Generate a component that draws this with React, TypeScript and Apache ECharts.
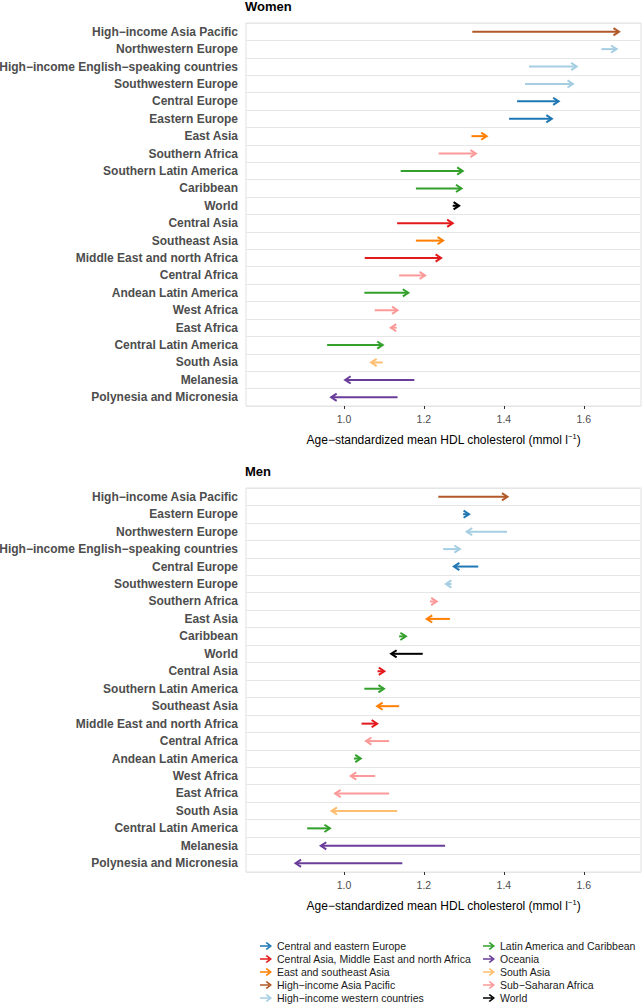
import React, { useEffect, useRef } from "react";
import * as echarts from "echarts";

const groups = [
  "Central and eastern Europe",
  "Central Asia, Middle East and north Africa",
  "East and southeast Asia",
  "High\u2212income Asia Pacific",
  "High\u2212income western countries",
  "Latin America and Caribbean",
  "Oceania",
  "South Asia",
  "Sub\u2212Saharan Africa",
  "World",
];
const groupColors = [
  "#1F78B4",
  "#E31A1C",
  "#FF7F00",
  "#B15928",
  "#A6CEE3",
  "#33A02C",
  "#6A3D9A",
  "#FDBF6F",
  "#FB9A99",
  "#000000",
];

const womenRegions = [
  "High\u2212income Asia Pacific",
  "Northwestern Europe",
  "High\u2212income English\u2212speaking countries",
  "Southwestern Europe",
  "Central Europe",
  "Eastern Europe",
  "East Asia",
  "Southern Africa",
  "Southern Latin America",
  "Caribbean",
  "World",
  "Central Asia",
  "Southeast Asia",
  "Middle East and north Africa",
  "Central Africa",
  "Andean Latin America",
  "West Africa",
  "East Africa",
  "Central Latin America",
  "South Asia",
  "Melanesia",
  "Polynesia and Micronesia",
];
const womenGroup = [3, 4, 4, 4, 0, 0, 2, 8, 5, 5, 9, 1, 2, 1, 8, 5, 8, 8, 5, 7, 6, 6];
const womenStart = [1.321, 1.644, 1.463, 1.453, 1.433, 1.413, 1.319, 1.237, 1.142, 1.18, 1.272, 1.133, 1.18, 1.052, 1.138, 1.051, 1.077, 1.132, 0.958, 1.097, 1.176, 1.134];
const womenEnd = [1.688, 1.682, 1.582, 1.573, 1.537, 1.52, 1.357, 1.33, 1.297, 1.294, 1.288, 1.272, 1.248, 1.243, 1.203, 1.161, 1.134, 1.117, 1.097, 1.068, 1.003, 0.968];

const menRegions = [
  "High\u2212income Asia Pacific",
  "Eastern Europe",
  "Northwestern Europe",
  "High\u2212income English\u2212speaking countries",
  "Central Europe",
  "Southwestern Europe",
  "Southern Africa",
  "East Asia",
  "Caribbean",
  "World",
  "Central Asia",
  "Southern Latin America",
  "Southeast Asia",
  "Middle East and north Africa",
  "Central Africa",
  "Andean Latin America",
  "West Africa",
  "East Africa",
  "South Asia",
  "Central Latin America",
  "Melanesia",
  "Polynesia and Micronesia",
];
const menGroup = [3, 0, 4, 4, 0, 4, 8, 2, 5, 9, 1, 5, 2, 1, 8, 5, 8, 8, 7, 5, 6, 6];
const menStart = [1.236, 1.298, 1.408, 1.248, 1.336, 1.269, 1.215, 1.265, 1.138, 1.197, 1.084, 1.051, 1.138, 1.044, 1.113, 1.025, 1.078, 1.113, 1.133, 0.908, 1.253, 1.146];
const menEnd = [1.409, 1.313, 1.307, 1.29, 1.275, 1.255, 1.232, 1.207, 1.155, 1.118, 1.101, 1.1, 1.083, 1.083, 1.055, 1.042, 1.017, 0.978, 0.969, 0.965, 0.942, 0.879];

const xTicks = [1.0, 1.2, 1.4, 1.6];
const xMin = 0.755;
const xMax = 1.743;

const FONT = "'Liberation Sans', Arial, Helvetica, sans-serif";

const renderArrow = (params: any, api: any) => {
  const s = api.coord([api.value(0), api.value(2)]);
  const e = api.coord([api.value(1), api.value(2)]);
  const color = api.visual("color");
  const dir = e[0] - s[0] >= 0 ? 1 : -1;
  const hl = 5.5;
  const hw = 3.6;
  return {
    type: "group",
    children: [
      {
        type: "line",
        shape: { x1: s[0], y1: s[1], x2: e[0] - dir * 0.8, y2: e[1] },
        style: { stroke: color, lineWidth: 2 },
      },
      {
        type: "polyline",
        shape: {
          points: [
            [e[0] - dir * hl, e[1] - hw],
            [e[0], e[1]],
            [e[0] - dir * hl, e[1] + hw],
          ],
        },
        style: { stroke: color, lineWidth: 2, fill: null, lineJoin: "miter" },
      },
    ],
  };
};

const arrowIcon =
  "path://M0,3.2L9,3.2L9,4.8L0,4.8Z M5.6,0.9L6.9,0L12,4L6.9,8L5.6,7.1L9.5,4Z";

function buildSeries(groupArr: number[], starts: number[], ends: number[], axisIndex: number) {
  return groups.map((g, gi) => ({
    type: "custom",
    name: g,
    xAxisIndex: axisIndex,
    yAxisIndex: axisIndex,
    renderItem: renderArrow,
    itemStyle: { color: groupColors[gi] },
    encode: { x: [0, 1], y: 2 },
    data: groupArr
      .map((gg, i) => (gg === gi ? [starts[i], ends[i], i] : null))
      .filter((d) => d !== null),
  }));
}

function xAxisCfg(gridIndex: number) {
  return {
    type: "value",
    gridIndex,
    min: xMin,
    max: xMax,
    axisLine: { show: false },
    splitLine: { show: false },
    axisTick: {
      show: true,
      customValues: xTicks,
      length: 3,
      lineStyle: { color: "#333333", width: 1 },
    },
    axisLabel: {
      customValues: xTicks,
      formatter: (v: number) => v.toFixed(1),
      color: "#4D4D4D",
      fontSize: 10.5,
      fontFamily: FONT,
      margin: 7,
    },
    name: "Age\u2212standardized mean HDL cholesterol (mmol l{sup|\u22121})",
    nameLocation: "middle",
    nameGap: 26,
    nameTextStyle: {
      color: "#000000",
      fontSize: 12,
      fontFamily: FONT,
      rich: {
        sup: { fontSize: 7.5, fontFamily: FONT, color: "#000000", padding: [0, 0, 7, 0] },
      },
    },
  };
}

function yAxisCfg(gridIndex: number, cats: string[]) {
  return {
    type: "category",
    gridIndex,
    data: cats,
    inverse: true,
    axisLine: { show: false },
    axisTick: { show: false },
    splitLine: { show: true, lineStyle: { color: "#E6E6E6", width: 1 } },
    axisLabel: {
      color: "#4D4D4D",
      fontSize: 12,
      fontWeight: "bold",
      fontFamily: FONT,
      margin: 8,
      interval: 0,
    },
  };
}

const legendText = { fontSize: 10.5, fontFamily: FONT, color: "#1A1A1A", lineHeight: 12 };

export default function App() {
  const ref = useRef<HTMLDivElement>(null);
  useEffect(() => {
    document.body.style.margin = "0";
    if (!ref.current) return;
    const chart = echarts.init(ref.current, null, { renderer: "svg" });
    const option: any = {
      animation: false,
      backgroundColor: "#ffffff",
      title: [
        {
          text: "Women",
          left: 245,
          top: 0,
          padding: 0,
          textStyle: { fontSize: 13, fontWeight: "bold", color: "#000", fontFamily: FONT },
        },
        {
          text: "Men",
          left: 245,
          top: 465,
          padding: 0,
          textStyle: { fontSize: 13, fontWeight: "bold", color: "#000", fontFamily: FONT },
        },
      ],
      grid: [
        { left: 246, top: 23, width: 395, height: 383, show: true, borderColor: "#E0E0E0", borderWidth: 1, containLabel: false, outerBoundsMode: "none" },
        { left: 246, top: 488, width: 395, height: 384, show: true, borderColor: "#E0E0E0", borderWidth: 1, containLabel: false, outerBoundsMode: "none" },
      ],
      xAxis: [xAxisCfg(0), xAxisCfg(1)],
      yAxis: [yAxisCfg(0, womenRegions), yAxisCfg(1, menRegions)],
      legend: [
        {
          data: groups.slice(0, 5),
          orient: "vertical",
          left: 260,
          top: 940,
          itemWidth: 12,
          itemHeight: 8,
          itemGap: 1,
          icon: arrowIcon,
          selectedMode: false,
          padding: 0,
          textStyle: legendText,
        },
        {
          data: groups.slice(5),
          orient: "vertical",
          left: 483,
          top: 940,
          itemWidth: 12,
          itemHeight: 8,
          itemGap: 1,
          icon: arrowIcon,
          selectedMode: false,
          padding: 0,
          textStyle: legendText,
        },
      ],
      series: [
        ...buildSeries(womenGroup, womenStart, womenEnd, 0),
        ...buildSeries(menGroup, menStart, menEnd, 1),
      ],
    };
    chart.setOption(option);
    return () => chart.dispose();
  }, []);
  return <div ref={ref} style={{ width: 643, height: 1004 }} />;
}
